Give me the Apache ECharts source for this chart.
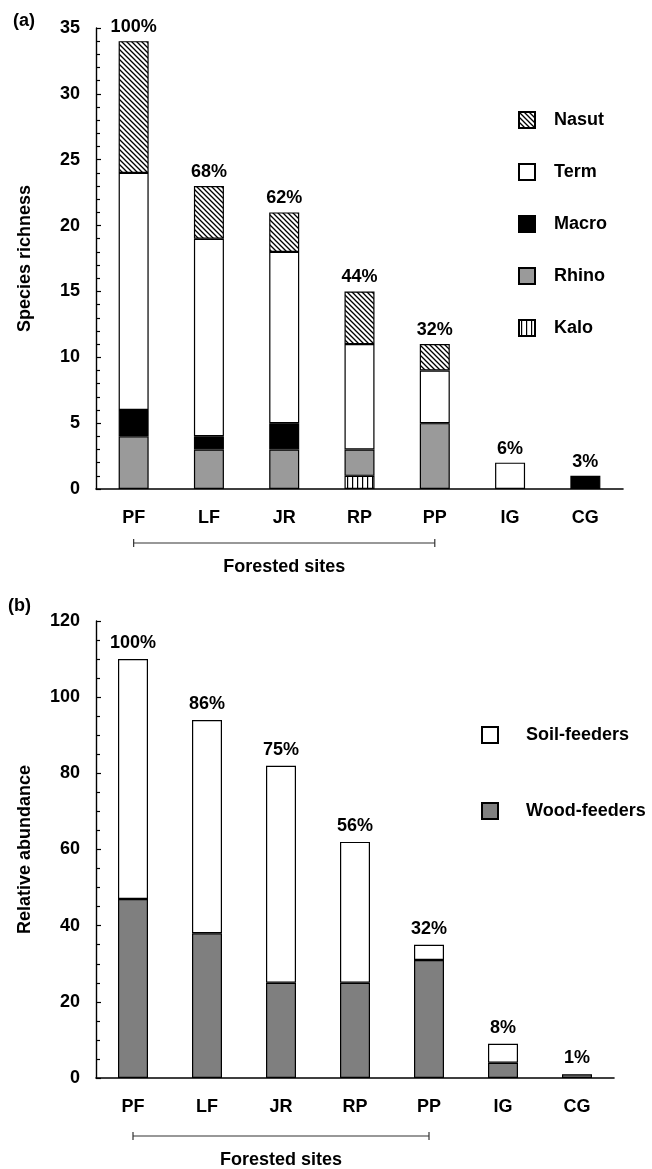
<!DOCTYPE html>
<html>
<head>
<meta charset="utf-8">
<script src="https://cdn.jsdelivr.net/npm/echarts@6/dist/echarts.min.js"></script>
<style>
html,body{margin:0;padding:0;background:#fff;}
#chart{width:652px;height:1169px;}
</style>
</head>
<body>
<div id="chart"></div>
<script>
// ---- data ----
const categories = ['PF', 'LF', 'JR', 'RP', 'PP', 'IG', 'CG'];
// panel (a): species richness
const kalo  = [0, 0, 0, 1, 0, 0, 0];
const rhino = [4, 3, 3, 2, 5, 0, 0];
const macro = [2, 1, 2, 0, 0, 0, 1];
const term  = [18, 15, 13, 8, 4, 2, 0];
const nasut = [10, 4, 3, 4, 2, 0, 0];
const richnessPct = ['100%', '68%', '62%', '44%', '32%', '6%', '3%'];
const richnessTicks = [0, 5, 10, 15, 20, 25, 30, 35];
// panel (b): relative abundance
const woodFeeders = [47, 38, 25, 25, 31, 4, 1];
const soilFeeders = [63, 56, 57, 37, 4, 5, 0];
const abundancePct = ['100%', '86%', '75%', '56%', '32%', '8%', '1%'];
const abundanceTicks = [0, 20, 40, 60, 80, 100, 120];

// ---- patterns ----
function makeDiag() {
  const c = document.createElement('canvas');
  const s = 5; c.width = s; c.height = s;
  const g = c.getContext('2d');
  g.fillStyle = '#fff'; g.fillRect(0, 0, s, s);
  g.strokeStyle = '#000'; g.lineWidth = 1.3;
  g.beginPath();
  g.moveTo(-1, -1); g.lineTo(s + 1, s + 1);
  g.moveTo(-1, s - 1); g.lineTo(1, s + 1);
  g.moveTo(s - 1, -1); g.lineTo(s + 1, 1);
  g.stroke();
  return c;
}
function makeVert() {
  const c = document.createElement('canvas');
  const s = 5; c.width = s; c.height = s;
  const g = c.getContext('2d');
  g.fillStyle = '#fff'; g.fillRect(0, 0, s, s);
  g.fillStyle = '#000'; g.fillRect(2, 0, 1.2, s);
  return c;
}
const diagPattern = { image: makeDiag(), repeat: 'repeat' };
const vertPattern = { image: makeVert(), repeat: 'repeat' };

const FONT = 'Liberation Sans, Arial, Helvetica, sans-serif';
const txt = { fontFamily: FONT, fontWeight: 'bold', fontSize: 18, color: '#000' };
const nz = arr => arr.map(v => (v === 0 ? null : v));
const sumArr = (...arrs) => arrs[0].map((_, i) => arrs.reduce((s, a) => s + a[i], 0));

function barSeries(name, data, color, axis, stack) {
  return {
    name: name, type: 'bar', stack: stack,
    xAxisIndex: axis, yAxisIndex: axis,
    barWidth: 30,
    data: nz(data),
    itemStyle: { color: color, borderColor: '#000', borderWidth: 1.2, opacity: 1 },
    emphasis: { disabled: true },
    animation: false
  };
}
function labelSeries(totals, pct, axis, dist) {
  return {
    type: 'scatter', xAxisIndex: axis, yAxisIndex: axis,
    symbolSize: 0, data: totals, silent: true, animation: false,
    itemStyle: { opacity: 1, color: '#000' },
    label: {
      show: true, position: 'top', distance: dist,
      formatter: p => pct[p.dataIndex],
      fontFamily: FONT, fontWeight: 'bold', fontSize: 18, color: '#000', opacity: 1
    }
  };
}
function xAxis(idx) {
  return {
    type: 'category', gridIndex: idx, data: categories,
    axisLine: { lineStyle: { color: '#000', width: 1.6 } },
    axisTick: { show: false },
    axisLabel: Object.assign({ margin: 20 }, txt),
    splitLine: { show: false }
  };
}
function yAxis(idx, ticks, name, minorSplit) {
  return {
    type: 'value', gridIndex: idx,
    min: ticks[0], max: ticks[ticks.length - 1], interval: ticks[1] - ticks[0],
    name: name, nameLocation: 'middle', nameGap: 62, nameRotate: 90,
    nameTextStyle: txt,
    axisLine: { show: true, lineStyle: { color: '#000', width: 1.4 } },
    axisTick: { show: true, inside: true, length: 5, lineStyle: { color: '#000', width: 1.2 } },
    minorTick: { show: true, splitNumber: minorSplit, length: 4, lineStyle: { color: '#000', width: 1.2 } },
    axisLabel: Object.assign({ margin: 16 }, txt),
    splitLine: { show: false }
  };
}

const chart = echarts.init(document.getElementById('chart'), null, { renderer: 'canvas' });

const legendText = (gap) => ({
  fontFamily: FONT, fontWeight: 'bold', fontSize: 18, color: '#000', lineHeight: 16,
  rich: { g: { width: gap } }
});

const option = {
  backgroundColor: '#fff',
  animation: false,
  grid: [
    { left: 96, right: 29, top: 28, bottom: 680 },
    { left: 96, right: 38, top: 621, bottom: 91 }
  ],
  xAxis: [xAxis(0), xAxis(1)],
  yAxis: [
    yAxis(0, richnessTicks, 'Species richness', 5),
    yAxis(1, abundanceTicks, 'Relative abundance', 4)
  ],
  legend: [
    {
      orient: 'vertical', left: 518, top: 111, padding: 0,
      icon: 'rect',
      itemWidth: 16, itemHeight: 16, itemGap: 34,
      data: ['Nasut', 'Term', 'Macro', 'Rhino', 'Kalo'],
      formatter: n => '{g|}' + n,
      textStyle: legendText(14),
      selectedMode: false
    },
    {
      orient: 'vertical', left: 481, top: 726, padding: 0,
      icon: 'rect',
      itemWidth: 16, itemHeight: 16, itemGap: 58,
      data: ['Soil-feeders', 'Wood-feeders'],
      formatter: n => '{g|}' + n,
      textStyle: legendText(23),
      selectedMode: false
    }
  ],
  series: [
    barSeries('Kalo', kalo, vertPattern, 0, 'a'),
    barSeries('Rhino', rhino, '#9a9a9a', 0, 'a'),
    barSeries('Macro', macro, '#000', 0, 'a'),
    barSeries('Term', term, '#fff', 0, 'a'),
    barSeries('Nasut', nasut, diagPattern, 0, 'a'),
    labelSeries(sumArr(kalo, rhino, macro, term, nasut), richnessPct, 0, 5),
    barSeries('Wood-feeders', woodFeeders, '#7f7f7f', 1, 'b'),
    barSeries('Soil-feeders', soilFeeders, '#fff', 1, 'b'),
    labelSeries(sumArr(woodFeeders, soilFeeders), abundancePct, 1, 7)
  ]
};
chart.setOption(option);

// annotations: panel letters and "Forested sites" brackets
function bracket(axisIdx, y, textY) {
  const x0 = chart.convertToPixel({ xAxisIndex: axisIdx }, 0);
  const x1 = chart.convertToPixel({ xAxisIndex: axisIdx }, 4);
  const st = { stroke: '#333', lineWidth: 1.2 };
  return [
    { type: 'line', shape: { x1: x0, y1: y, x2: x1, y2: y }, style: st },
    { type: 'line', shape: { x1: x0, y1: y - 4, x2: x0, y2: y + 4 }, style: st },
    { type: 'line', shape: { x1: x1, y1: y - 4, x2: x1, y2: y + 4 }, style: st },
    { type: 'text', x: (x0 + x1) / 2, y: textY,
      style: { text: 'Forested sites', font: 'bold 18px ' + FONT, fill: '#000', textAlign: 'center', textVerticalAlign: 'middle' } }
  ];
}
chart.setOption({
  graphic: [
    { type: 'text', x: 13, y: 21, style: { text: '(a)', font: 'bold 18px ' + FONT, fill: '#000', textVerticalAlign: 'middle' } },
    { type: 'text', x: 8, y: 606, style: { text: '(b)', font: 'bold 18px ' + FONT, fill: '#000', textVerticalAlign: 'middle' } }
  ].concat(bracket(0, 543, 567), bracket(1, 1136, 1160))
});
</script>
</body>
</html>
